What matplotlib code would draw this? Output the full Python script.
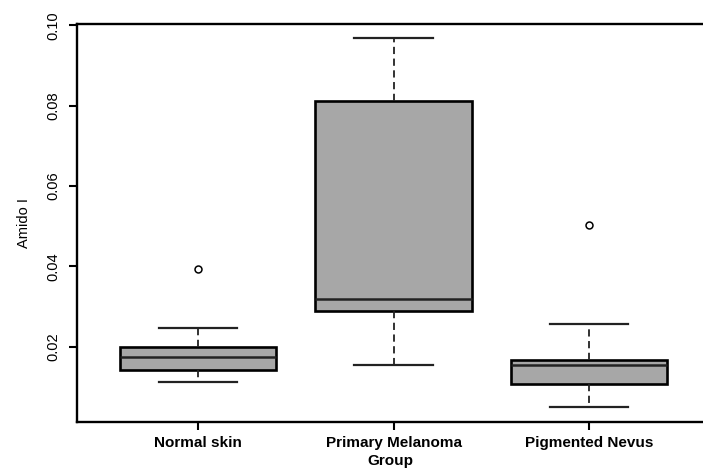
import matplotlib
matplotlib.use("Agg")
import matplotlib.pyplot as plt

plt.rcParams['font.family'] = ['Liberation Sans', 'DejaVu Sans']

# five-number summaries
groups = ["Normal skin", "Primary Melanoma", "Pigmented Nevus"]
whisker_low = [0.0113, 0.0155, 0.0051]
q1 = [0.0142, 0.0288, 0.0108]
medians = [0.0174, 0.0318, 0.0155]
q3 = [0.0200, 0.0812, 0.0167]
whisker_high = [0.0246, 0.0967, 0.0256]
outliers = [[0.0394], [], [0.0504]]

yticks = [0.02, 0.04, 0.06, 0.08, 0.10]
ytick_labels = ["0.02", "0.04", "0.06", "0.08", "0.10"]

# bxp wants a list of dicts
stats = []
for i in range(len(groups)):
    stats.append({
        'whislo': whisker_low[i], 'q1': q1[i], 'med': medians[i],
        'q3': q3[i], 'whishi': whisker_high[i], 'fliers': outliers[i],
        'label': groups[i],
    })

fig = plt.figure(figsize=(7.03, 4.70), dpi=100)
ax = fig.add_axes([77 / 703, 48 / 470, 626 / 703, 398 / 470])

ax.bxp(stats, positions=[1, 2, 3], widths=0.8, patch_artist=True,
       boxprops=dict(facecolor='#a7a7a7', edgecolor='black', linewidth=1.9),
       medianprops=dict(color='#222222', linewidth=1.8),
       whiskerprops=dict(color='#222222', linewidth=1.3, linestyle=(0, (4, 2.5))),
       capprops=dict(color='#222222', linewidth=1.6),
       capwidths=0.4,
       flierprops=dict(marker='o', markersize=5, markerfacecolor='none',
                       markeredgecolor='black', markeredgewidth=1.1))

ax.set_xlim(0.381, 3.583)
ax.set_ylim(0.0013, 0.1003)

ax.set_yticks(yticks)
ax.set_yticklabels(ytick_labels, rotation=90, va='center', fontsize=10.5)
ax.set_xticks([1, 2, 3])
ax.set_xticklabels(groups, fontsize=11, fontweight='bold')
ax.tick_params(axis='y', length=6, width=1.5, pad=6)
ax.tick_params(axis='x', length=6, width=1.5, pad=4)

ax.set_ylabel("Amido I", fontsize=10.5, labelpad=11)
# reference crops this label at the bottom edge; keep it just inside
ax.set_xlabel("Group", fontsize=11, fontweight='bold', labelpad=3)

for side in ['left', 'top', 'bottom']:
    ax.spines[side].set_linewidth(1.7)
ax.spines['right'].set_visible(False)

fig.savefig("out.png", dpi=100)
